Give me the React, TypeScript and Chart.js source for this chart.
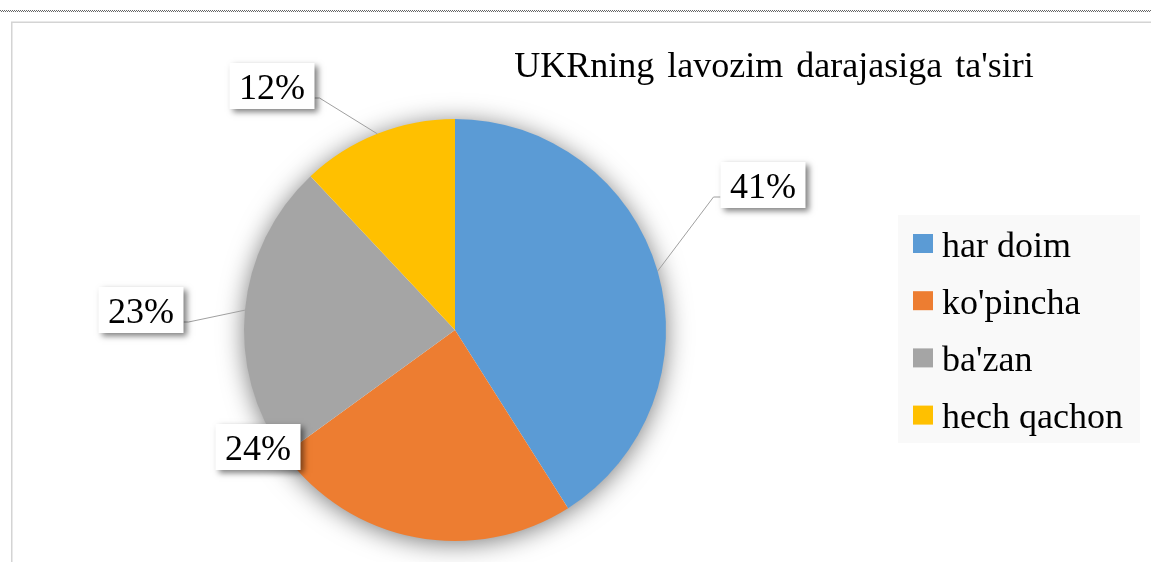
import { useEffect, useRef } from 'react';
import { Chart, registerables } from 'chart.js';

Chart.register(...registerables);

// ---- data ----
const categories = ['har doim', "ko'pincha", "ba'zan", 'hech qachon'];
const values = [41, 24, 23, 12];
const sliceColors = ['#5B9BD5', '#ED7D31', '#A5A5A5', '#FFC000'];
const titleText = "UKRning lavozim darajasiga ta'siri";

// ---- styling (label box centres and leader visibility) ----
const labelBoxCenters = [
  [763, 185],
  [258, 447],
  [141, 310],
  [272, 86],
];
const showLeader = [true, false, true, true];

const FONT = "'Liberation Serif', 'Times New Roman', serif";

const decorPlugin = {
  id: 'excelDecor',
  beforeDraw(chart: any) {
    const ctx = chart.ctx as CanvasRenderingContext2D;
    const W = chart.width;
    const H = chart.height;
    ctx.save();
    ctx.fillStyle = '#ffffff';
    ctx.fillRect(0, 0, W, H);
    // dotted line at top
    ctx.strokeStyle = '#666666';
    ctx.lineWidth = 1;
    ctx.setLineDash([1, 1]);
    ctx.beginPath();
    ctx.moveTo(0, 10.5);
    ctx.lineTo(W, 10.5);
    ctx.stroke();
    ctx.lineDashOffset = 1;
    ctx.beginPath();
    ctx.moveTo(0, 11.5);
    ctx.lineTo(W, 11.5);
    ctx.stroke();
    ctx.setLineDash([]);
    // frame
    ctx.strokeStyle = '#D4D4D4';
    ctx.lineWidth = 1.5;
    ctx.beginPath();
    ctx.moveTo(11.75, H + 2);
    ctx.lineTo(11.75, 22.25);
    ctx.lineTo(W + 2, 22.25);
    ctx.stroke();
    // title
    ctx.fillStyle = '#000000';
    ctx.font = `36px ${FONT}`;
    ctx.textAlign = 'center';
    ctx.textBaseline = 'alphabetic';
    (ctx as any).wordSpacing = '4px';
    ctx.fillText(titleText, 774, 77);
    (ctx as any).wordSpacing = '0px';
    // legend
    ctx.fillStyle = '#F9F9F9';
    ctx.fillRect(898, 215, 242, 228);
    const labels = chart.data.labels as string[];
    const colors = chart.data.datasets[0].backgroundColor as string[];
    ctx.textAlign = 'left';
    labels.forEach((lab, i) => {
      const cy = 243.5 + i * 57.2;
      ctx.fillStyle = colors[i];
      ctx.fillRect(913, cy - 9.5, 20, 19);
      ctx.fillStyle = '#000000';
      ctx.fillText(lab, 942, cy + 13);
    });
    ctx.restore();
  },
  beforeDatasetsDraw(chart: any) {
    const ctx = chart.ctx as CanvasRenderingContext2D;
    const arc = chart.getDatasetMeta(0).data[0];
    if (!arc) return;
    const { x, y, outerRadius } = arc.getProps(['x', 'y', 'outerRadius'], true);
    ctx.save();
    ctx.shadowColor = 'rgba(0,0,0,0.55)';
    ctx.shadowBlur = 26;
    ctx.shadowOffsetX = 0;
    ctx.shadowOffsetY = 3;
    ctx.fillStyle = '#ffffff';
    ctx.beginPath();
    ctx.arc(x, y, outerRadius - 1, 0, Math.PI * 2);
    ctx.fill();
    ctx.restore();
  },
  afterDatasetsDraw(chart: any) {
    const ctx = chart.ctx as CanvasRenderingContext2D;
    const meta = chart.getDatasetMeta(0);
    const data = chart.data.datasets[0].data as number[];
    const total = data.reduce((a, b) => a + b, 0);
    const boxW = 85;
    const boxH = 46;
    meta.data.forEach((el: any, i: number) => {
      const { x, y, startAngle, endAngle, outerRadius } = el.getProps(
        ['x', 'y', 'startAngle', 'endAngle', 'outerRadius'],
        true
      );
      const mid = (startAngle + endAngle) / 2;
      const ex = x + Math.cos(mid) * outerRadius;
      const ey = y + Math.sin(mid) * outerRadius;
      const [bx, by] = labelBoxCenters[i];
      const onRight = bx > x;
      if (showLeader[i]) {
        const ax = onRight ? bx - boxW / 2 : bx + boxW / 2;
        const ay = by + 12;
        const elx = onRight ? ax - 7 : ax + 5;
        ctx.save();
        ctx.strokeStyle = '#A0A0A0';
        ctx.lineWidth = 1;
        ctx.beginPath();
        ctx.moveTo(ex, ey);
        ctx.lineTo(elx, ay);
        ctx.lineTo(ax, ay);
        ctx.stroke();
        ctx.restore();
      }
      // box with shadow
      ctx.save();
      ctx.shadowColor = 'rgba(0,0,0,0.5)';
      ctx.shadowBlur = 6;
      ctx.shadowOffsetX = 3;
      ctx.shadowOffsetY = 3;
      ctx.fillStyle = '#ffffff';
      ctx.fillRect(bx - boxW / 2, by - boxH / 2, boxW, boxH);
      ctx.restore();
      ctx.save();
      ctx.fillStyle = '#000000';
      ctx.font = `36px ${FONT}`;
      ctx.textAlign = 'center';
      ctx.textBaseline = 'alphabetic';
      const pct = Math.round((data[i] / total) * 100);
      ctx.fillText(`${pct}%`, bx, by + 13);
      ctx.restore();
    });
  },
};

export default function App() {
  const ref = useRef<HTMLCanvasElement>(null);
  useEffect(() => {
    document.body.style.margin = '0';
    const chart = new Chart(ref.current as HTMLCanvasElement, {
      type: 'pie',
      data: {
        labels: categories,
        datasets: [
          {
            data: values,
            backgroundColor: sliceColors,
            borderWidth: 0,
          },
        ],
      },
      options: {
        responsive: false,
        animation: false,
        events: [],
        rotation: 0,
        layout: { padding: { left: 244, right: 485, top: 119, bottom: 21 } },
        plugins: {
          legend: { display: false },
          title: { display: false },
          tooltip: { enabled: false },
        },
      },
      plugins: [decorPlugin],
    });
    return () => chart.destroy();
  }, []);
  return (
    <div style={{ width: 1151, height: 562, position: 'relative', background: '#fff' }}>
      <canvas ref={ref} width={1151} height={562} style={{ display: 'block' }} />
    </div>
  );
}
